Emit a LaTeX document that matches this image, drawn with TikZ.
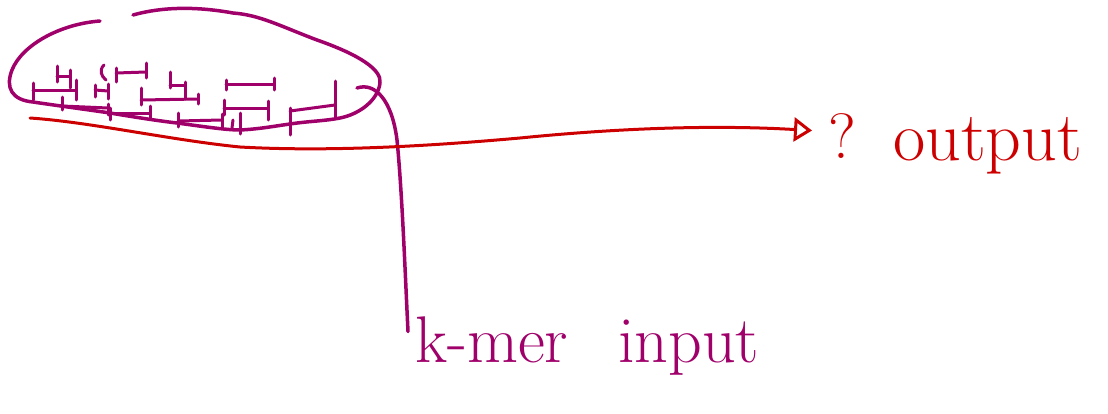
\documentclass[tikz,border=0pt]{standalone}
\usetikzlibrary{arrows.meta}
\definecolor{pen}{HTML}{A0006A}
\definecolor{redpen}{HTML}{CC0000}
\newcommand{\kmerseg}[7]{%
  % #1 x1, #2 y1, #3 x2, #4 y2, #5/#6 first tick above/below, #6/#7 second tick above/below
  \draw[ink,line width=3pt] (#1,#2) -- (#3,#4);
  \draw[ink,line width=3pt] (#1,#2-#5) -- (#1,#2+#6);
  \draw[ink,line width=3pt] (#3,#4-#6) -- (#3,#4+#7);
}
\begin{document}
\begin{tikzpicture}[x=1pt,y=-1pt,
  ink/.style={pen,line width=3.5pt,line cap=round,line join=round},
  rink/.style={redpen,line width=3pt,line cap=round,line join=round},
  handtext/.style={inner sep=0pt,anchor=base west}]
\useasboundingbox (0,0) rectangle (1108,413);
% loop around the k-mers
\draw[ink] (100,21) .. controls (60,24) and (22,45) .. (12,70)
  .. controls (5,88) and (12,100) .. (33,102)
  .. controls (60,106) and (90,110) .. (110,113)
  .. controls (140,118) and (160,121) .. (177,123)
  .. controls (200,126) and (225,130) .. (240,130)
  .. controls (260,129) and (275,126) .. (290,124)
  .. controls (310,121) and (325,121) .. (340,118)
  .. controls (360,114) and (378,100) .. (380,83)
  .. controls (382,70) and (360,55) .. (317,40)
  .. controls (280,26) and (260,15) .. (233,13)
  .. controls (200,7) and (165,6) .. (133,15);
% k-mer segments
\kmerseg{33}{90}{76}{90}{7}{10}{10}
\kmerseg{57}{76}{70}{76}{10}{6}{12}
\kmerseg{62}{106}{108}{108}{9}{4}{7}
\kmerseg{95}{90}{108}{91}{5}{7}{8}
\kmerseg{116}{73}{146}{72}{5}{9}{6}
\draw[ink,line width=3pt] (104,65) .. controls (99,70) and (101,76) .. (106,80);
\kmerseg{110}{113}{150}{113}{5}{7}{5}
\kmerseg{141}{100}{198}{99}{12}{5}{5}
\kmerseg{170}{85}{185}{85}{13}{3}{14}
\kmerseg{178}{121}{222}{120}{8}{6}{8}
\kmerseg{226}{84}{274}{84}{4}{6}{6}
\kmerseg{224}{108}{268}{108}{8}{7}{12}
\draw[ink,line width=3pt] (240,113) -- (240,134);
\draw[ink,line width=3pt] (233,120) -- (232,128);
\kmerseg{290}{111}{335}{105}{3}{24}{12}
% texts
\node[handtext,pen,font=\fontsize{66}{68}\selectfont] (kmerlabel) at (415,362) {k-mer\hspace{50pt}input};
\node[handtext,redpen,font=\fontsize{64}{66}\selectfont] (qmark) at (828,158) {?};
\node[handtext,redpen,font=\fontsize{70}{72}\selectfont] (outlabel) at (893,160) {output};
% callout from loop to label
\coordinate (cstart) at (357,88);
\draw[ink] (cstart) .. controls (375,82) and (392,100) .. (397,140)
  .. controls (402,190) and (405,270) .. ([xshift=-7pt,yshift=14pt]kmerlabel.west);
% red arrow
\coordinate (rstart) at (30,118);
\draw[rink,-{Triangle[open,length=18pt,width=24pt,line width=3pt]}] (rstart)
  .. controls (90,122) and (170,140) .. (240,147)
  .. controls (330,152) and (430,146) .. (520,138)
  .. controls (600,130) and (700,124) .. ([xshift=-16pt,yshift=5pt]qmark.west);
\end{tikzpicture}
\end{document}
